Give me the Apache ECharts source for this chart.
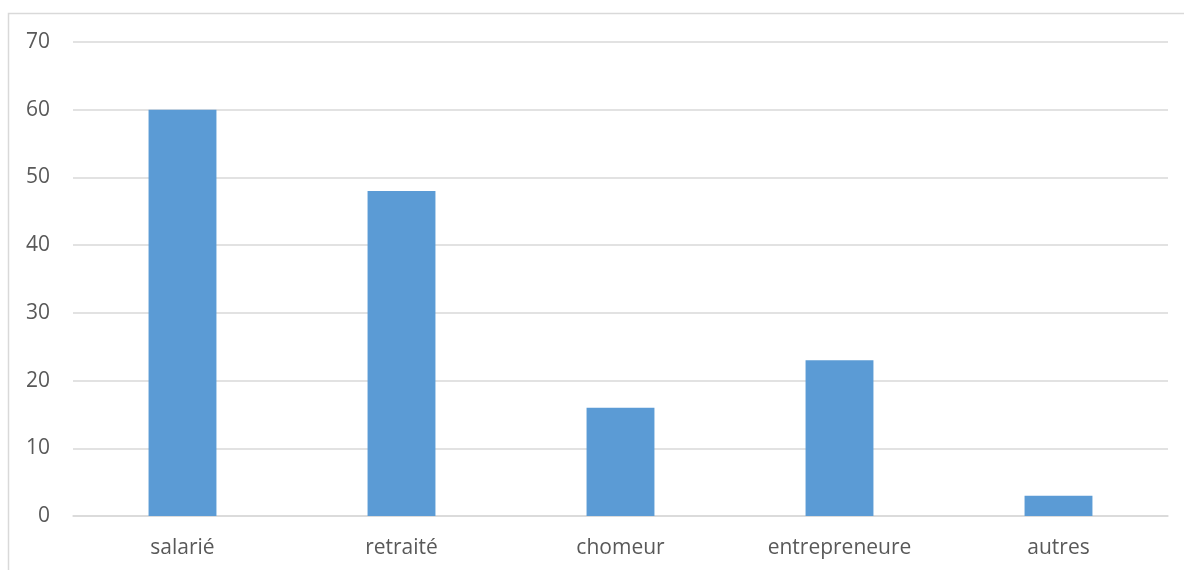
<!DOCTYPE html>
<html>
<head>
<meta charset="utf-8">
<script src="https://cdn.jsdelivr.net/npm/echarts@6/dist/echarts.min.js"></script>
<style>
html,body{margin:0;padding:0;background:#fff;}
#c{width:1184px;height:570px;}
</style>
</head>
<body>
<div id="c"></div>
<script>
const categories = ['salarié', 'retraité', 'chomeur', 'entrepreneure', 'autres'];
const values = [60, 48, 16, 23, 3];

const chart = echarts.init(document.getElementById('c'));
chart.setOption({
  animation: false,
  graphic: [{
    type: 'rect',
    shape: { x: 8.5, y: 13.5, width: 1200, height: 600 },
    style: { fill: 'none', stroke: '#d9d9d9', lineWidth: 1.5 },
    silent: true
  }],
  grid: { left: 73, right: 16, top: 42, bottom: 54 },
  xAxis: {
    type: 'category',
    data: categories,
    axisLine: { lineStyle: { color: '#d9d9d9', width: 1.5 } },
    axisTick: { show: false },
    axisLabel: { color: '#595959', fontSize: 21, fontFamily: 'Open Sans', margin: 22 }
  },
  yAxis: {
    type: 'value',
    min: 0, max: 70, interval: 10,
    axisLine: { show: false },
    axisTick: { show: false },
    splitLine: { lineStyle: { color: '#d9d9d9', width: 1.5 } },
    axisLabel: { color: '#595959', fontSize: 21, fontFamily: 'Open Sans', margin: 23 }
  },
  series: [{
    type: 'bar',
    data: values,
    barWidth: '31%',
    itemStyle: { color: '#5b9bd5' }
  }]
});
</script>
</body>
</html>
